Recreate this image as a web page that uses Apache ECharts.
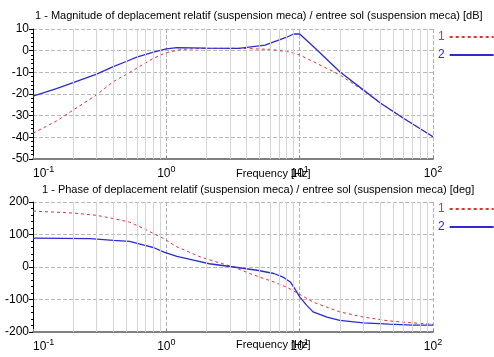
<!DOCTYPE html>
<html><head><meta charset="utf-8">
<script src="https://cdn.jsdelivr.net/npm/echarts@6/dist/echarts.min.js"></script>
<style>html,body{margin:0;padding:0;background:#fff}#c{width:494px;height:357px}</style>
</head><body><div id="c"></div>
<script>
const titleMag = '1 - Magnitude of deplacement relatif (suspension meca) / entree sol (suspension meca) [dB]';
const titlePhase = '1 - Phase of deplacement relatif (suspension meca) / entree sol (suspension meca) [deg]';
const xName = 'Frequency [Hz]';
const seriesNames = ['1', '2'];

const magFreq1 = [0.1,0.15,0.2,0.3,0.4,0.5,0.6,0.8,1.0,1.3,2,3.5,6,8.5,10,12.6,20,30,40,63,100];
const magVal1  = [-38.1,-32.5,-27.4,-20.4,-14.3,-11,-8.1,-3.5,-0.9,0.6,1.1,1.1,0.6,-0.7,-2,-5,-11.2,-18.4,-24,-32,-39.7];
const magFreq2 = [0.1,0.15,0.2,0.3,0.4,0.5,0.6,0.8,1.0,1.2,2,3.5,5.5,8,9,10,12.6,20,30,40,60,100];
const magVal2  = [-21,-17.5,-14.8,-10.8,-7.4,-5,-3,-0.7,0.8,1.4,1.2,1.1,2.6,6.2,7.7,7.7,2,-9.7,-18.1,-24,-31.2,-39.7];

const phFreq1 = [0.1,0.2,0.3,0.4,0.53,0.68,0.8,0.96,1.2,1.8,2.4,3.2,4.2,6.4,8,9.8,12.6,20,30,47,70,100];
const phVal1  = [172,166,159,149,138,118,103,87,62,31,15,0,-20,-46,-62,-82,-108,-138,-154,-166,-172,-176];
const phFreq2 = [0.1,0.27,0.4,0.53,0.68,0.8,0.96,1.2,1.6,2.1,3.2,4.8,6.4,7.5,8.5,9.2,10,11.3,12.6,16,20,30,47,70,100];
const phVal2  = [89,87,82,79,67,60,46,33,21,10,0,-10,-20,-31,-46,-67,-92,-118,-138,-154,-164,-172,-176,-179,-179];

const minorGrid = [0.2,0.3,0.4,0.5,0.6,0.7,0.8,0.9,2,3,4,5,6,7,8,9,20,30,40,50,60,70,80,90];

const pairs = (f, v) => f.map((x, i) => [x, v[i]]);
const RED = '#e0303a', BLUE = '#2b2bd0';
const FONT = 'Liberation Sans';

function xAxisCfg(gi) {
  return {
    type: 'log', logBase: 10, min: 0.1, max: 100, gridIndex: gi,
    axisLine: {onZero: false, lineStyle: {color: '#808080', width: 2}},
    axisTick: {show: true, inside: true, length: 3, lineStyle: {color: '#808080'}},
    splitLine: {show: true, lineStyle: {color: '#b0b0b0', type: 'dashed'}},
    axisLabel: {
      margin: 6, alignMinLabel: 'left',
      formatter: v => '{b|10}{s|' + Math.round(Math.log10(v)) + '}',
      rich: {b: {fontSize: 12, fontFamily: FONT, color: '#000'},
             s: {fontSize: 9, fontFamily: FONT, color: '#000', padding: [0, 0, 8, 0]}}
    }
  };
}
function yAxisCfg(gi, min, max, interval) {
  return {
    type: 'value', gridIndex: gi, min, max, interval,
    axisLine: {show: true, onZero: false, lineStyle: {color: '#000', width: 1}},
    axisTick: {show: true, length: 4, lineStyle: {color: '#000'}},
    minorTick: {show: true, splitNumber: 5, length: 2, lineStyle: {color: '#000'}},
    splitLine: {show: true, lineStyle: {color: '#b8b8b8', type: 'dashed'}},
    axisLabel: {fontSize: 12, fontFamily: FONT, color: '#000', margin: 4}
  };
}
function lineSeries(name, data, gi, color, dashed, withGrid) {
  const s = {
    name, type: 'line', data, xAxisIndex: gi, yAxisIndex: gi, symbol: 'none',
    smooth: false, silent: true,
    lineStyle: {color, width: dashed ? 1 : 1.3, type: dashed ? [3, 3] : 'solid'},
    itemStyle: {color}
  };
  if (withGrid) {
    s.markLine = {
      silent: true, symbol: 'none', label: {show: false}, animation: false,
      lineStyle: {color: '#d4d4d4', type: 'solid', width: 1},
      data: minorGrid.map(x => ({xAxis: x}))
    };
    s.z = 3;
  }
  return s;
}
function legendCfg(top) {
  return {
    left: 433, top, orient: 'vertical', align: 'right', itemGap: 6,
    itemWidth: 44, itemHeight: 12,
    itemStyle: {color: 'transparent', borderColor: 'transparent', borderWidth: 0},
    textStyle: {fontSize: 12, fontFamily: FONT},
    data: [{name: '1', textStyle: {color: RED}}, {name: '2', textStyle: {color: BLUE}}]
  };
}

const chart = echarts.init(document.getElementById('c'));
chart.setOption({
  animation: false,
  backgroundColor: '#fff',
  title: [
    {text: titleMag, left: 30, top: 5, textStyle: {fontSize: 11, fontWeight: 'normal', fontFamily: FONT, color: '#000'}},
    {text: titlePhase, left: 37, top: 179, textStyle: {fontSize: 11, fontWeight: 'normal', fontFamily: FONT, color: '#000'}}
  ],
  graphic: [
    {type: 'text', left: 236, top: 168, style: {text: xName, fontSize: 11, fontFamily: FONT, fill: '#000'}},
    {type: 'text', left: 236, top: 339, style: {text: xName, fontSize: 11, fontFamily: FONT, fill: '#000'}}
  ],
  legend: [legendCfg(26), legendCfg(198)],
  grid: [
    {left: 33, right: 61, top: 29, height: 130},
    {left: 33, right: 61, top: 202, height: 130}
  ],
  xAxis: [xAxisCfg(0), xAxisCfg(1)],
  yAxis: [yAxisCfg(0, -50, 10, 10), yAxisCfg(1, -200, 200, 100)],
  series: [
    lineSeries(seriesNames[0], pairs(magFreq1, magVal1), 0, RED, true, true),
    lineSeries(seriesNames[1], pairs(magFreq2, magVal2), 0, BLUE, false, false),
    lineSeries(seriesNames[0], pairs(phFreq1, phVal1), 1, RED, true, true),
    lineSeries(seriesNames[1], pairs(phFreq2, phVal2), 1, BLUE, false, false)
  ]
});
</script></body></html>
